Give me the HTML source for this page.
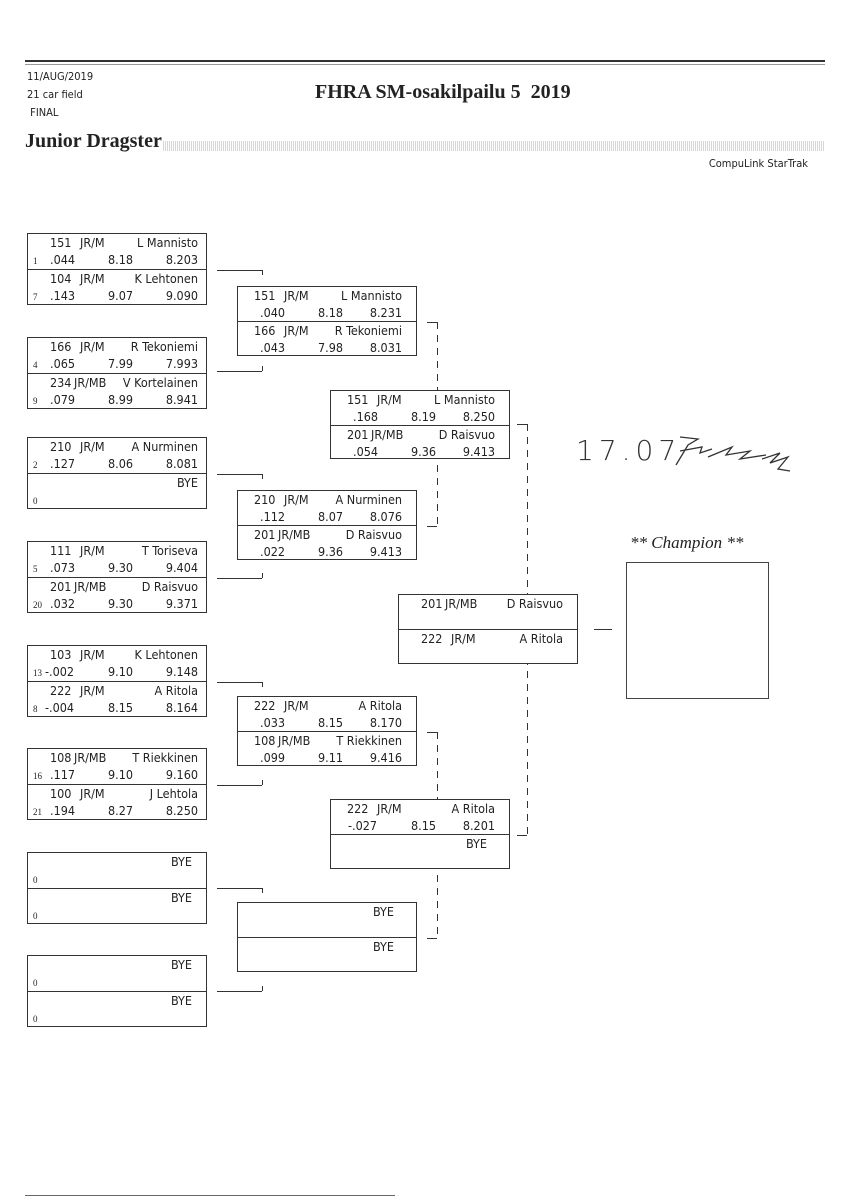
<!DOCTYPE html>
<html><head><meta charset="utf-8">
<style>
body{margin:0;background:#fff}
#p{position:relative;width:848px;height:1200px;overflow:hidden;background:#fff;font-family:"DejaVu Sans Condensed","Liberation Sans",sans-serif;color:#222}
.b{position:absolute;width:180px;height:72px;border:1px solid #333;box-sizing:border-box;background:#fff}
.b .d{position:absolute;left:0;right:0;top:35px;border-top:1px solid #333}
.r{position:absolute;left:0;right:0;height:18px;line-height:18px;font-size:12.5px}
.r span{position:absolute;white-space:nowrap}
.s{left:5px;font-family:"Liberation Serif",serif;font-size:9px;top:1px}
.a{left:22px}.c{left:52px}.m{left:80px}.e{right:8px}
.b2 .a{left:16px}.b2 .c{left:46px}.b2 .m{left:80px}.b2 .e{right:14px}
.h{position:absolute;border-top:1px solid #333}
.v{position:absolute;border-left:1px solid #333}
.vd{position:absolute;width:1px;background:repeating-linear-gradient(180deg,#333 0 7px,transparent 7px 13px)}
</style></head><body><div id="p">
<div class="h" style="left:25px;top:60px;width:800px;border-top:2px solid #333"></div>
<div class="h" style="left:25px;top:64px;width:800px;border-color:#999"></div>
<div style="position:absolute;left:27px;top:68px;font-size:11px;line-height:18px">11/AUG/2019<br>21 car field<br>&nbsp;FINAL</div>
<div style="position:absolute;left:315px;top:81px;font:bold 20px 'Liberation Serif',serif">FHRA SM-osakilpailu 5&nbsp; 2019</div>
<div style="position:absolute;left:25px;top:130px;font:bold 20px 'Liberation Serif',serif">Junior Dragster</div>
<div style="position:absolute;left:163px;top:141px;width:662px;height:10px;background:repeating-linear-gradient(90deg,#ccc 0 1px,#fff 1px 2px),#e4e4e4;opacity:.8"></div>
<div style="position:absolute;right:40px;top:157px;font-size:11px">CompuLink StarTrak</div>

<!-- connectors R1->R2 -->
<div class="h" style="left:217px;top:270px;width:45px"></div><div class="v" style="left:262px;top:270px;height:5px"></div>
<div class="h" style="left:217px;top:371px;width:45px"></div><div class="v" style="left:262px;top:366px;height:5px"></div>
<div class="h" style="left:217px;top:474px;width:45px"></div><div class="v" style="left:262px;top:474px;height:5px"></div>
<div class="h" style="left:217px;top:578px;width:45px"></div><div class="v" style="left:262px;top:573px;height:5px"></div>
<div class="h" style="left:217px;top:682px;width:45px"></div><div class="v" style="left:262px;top:682px;height:5px"></div>
<div class="h" style="left:217px;top:785px;width:45px"></div><div class="v" style="left:262px;top:780px;height:5px"></div>
<div class="h" style="left:217px;top:888px;width:45px"></div><div class="v" style="left:262px;top:888px;height:5px"></div>
<div class="h" style="left:217px;top:991px;width:45px"></div><div class="v" style="left:262px;top:986px;height:5px"></div>
<!-- R2->R3 -->
<div class="h" style="left:427px;top:322px;width:10px"></div><div class="vd" style="left:437px;top:322px;height:204px"></div><div class="h" style="left:427px;top:526px;width:10px"></div>
<div class="h" style="left:427px;top:732px;width:10px"></div><div class="vd" style="left:437px;top:732px;height:206px"></div><div class="h" style="left:427px;top:938px;width:10px"></div>
<!-- R3->final -->
<div class="h" style="left:517px;top:424px;width:10px"></div><div class="vd" style="left:527px;top:424px;height:411px"></div><div class="h" style="left:517px;top:835px;width:10px"></div>
<div class="h" style="left:594px;top:629px;width:18px"></div>

<!-- R1 -->
<div class="b" style="left:27px;top:233px"><div class="d"></div>
<div class="r" style="top:0"><span class="a">151</span><span class="c">JR/M</span><span class="e">L Mannisto</span></div>
<div class="r" style="top:17px"><span class="s">1</span><span class="a">.044</span><span class="m">8.18</span><span class="e">8.203</span></div>
<div class="r" style="top:36px"><span class="a">104</span><span class="c">JR/M</span><span class="e">K Lehtonen</span></div>
<div class="r" style="top:53px"><span class="s">7</span><span class="a">.143</span><span class="m">9.07</span><span class="e">9.090</span></div></div>
<div class="b" style="left:27px;top:337px"><div class="d"></div>
<div class="r" style="top:0"><span class="a">166</span><span class="c">JR/M</span><span class="e">R Tekoniemi</span></div>
<div class="r" style="top:17px"><span class="s">4</span><span class="a">.065</span><span class="m">7.99</span><span class="e">7.993</span></div>
<div class="r" style="top:36px"><span class="a">234</span><span class="c" style="left:46px">JR/MB</span><span class="e">V Kortelainen</span></div>
<div class="r" style="top:53px"><span class="s">9</span><span class="a">.079</span><span class="m">8.99</span><span class="e">8.941</span></div></div>
<div class="b" style="left:27px;top:437px"><div class="d"></div>
<div class="r" style="top:0"><span class="a">210</span><span class="c">JR/M</span><span class="e">A Nurminen</span></div>
<div class="r" style="top:17px"><span class="s">2</span><span class="a">.127</span><span class="m">8.06</span><span class="e">8.081</span></div>
<div class="r" style="top:36px"><span class="e">BYE</span></div>
<div class="r" style="top:53px"><span class="s">0</span></div></div>
<div class="b" style="left:27px;top:541px"><div class="d"></div>
<div class="r" style="top:0"><span class="a">111</span><span class="c">JR/M</span><span class="e">T Toriseva</span></div>
<div class="r" style="top:17px"><span class="s">5</span><span class="a">.073</span><span class="m">9.30</span><span class="e">9.404</span></div>
<div class="r" style="top:36px"><span class="a">201</span><span class="c" style="left:46px">JR/MB</span><span class="e">D Raisvuo</span></div>
<div class="r" style="top:53px"><span class="s">20</span><span class="a">.032</span><span class="m">9.30</span><span class="e">9.371</span></div></div>
<div class="b" style="left:27px;top:645px"><div class="d"></div>
<div class="r" style="top:0"><span class="a">103</span><span class="c">JR/M</span><span class="e">K Lehtonen</span></div>
<div class="r" style="top:17px"><span class="s">13</span><span class="a" style="left:17px">-.002</span><span class="m">9.10</span><span class="e">9.148</span></div>
<div class="r" style="top:36px"><span class="a">222</span><span class="c">JR/M</span><span class="e">A Ritola</span></div>
<div class="r" style="top:53px"><span class="s">8</span><span class="a" style="left:17px">-.004</span><span class="m">8.15</span><span class="e">8.164</span></div></div>
<div class="b" style="left:27px;top:748px"><div class="d"></div>
<div class="r" style="top:0"><span class="a">108</span><span class="c" style="left:46px">JR/MB</span><span class="e">T Riekkinen</span></div>
<div class="r" style="top:17px"><span class="s">16</span><span class="a">.117</span><span class="m">9.10</span><span class="e">9.160</span></div>
<div class="r" style="top:36px"><span class="a">100</span><span class="c">JR/M</span><span class="e">J Lehtola</span></div>
<div class="r" style="top:53px"><span class="s">21</span><span class="a">.194</span><span class="m">8.27</span><span class="e">8.250</span></div></div>
<div class="b" style="left:27px;top:852px"><div class="d"></div>
<div class="r" style="top:0"><span class="e" style="right:14px">BYE</span></div>
<div class="r" style="top:17px"><span class="s">0</span></div>
<div class="r" style="top:36px"><span class="e" style="right:14px">BYE</span></div>
<div class="r" style="top:53px"><span class="s">0</span></div></div>
<div class="b" style="left:27px;top:955px"><div class="d"></div>
<div class="r" style="top:0"><span class="e" style="right:14px">BYE</span></div>
<div class="r" style="top:17px"><span class="s">0</span></div>
<div class="r" style="top:36px"><span class="e" style="right:14px">BYE</span></div>
<div class="r" style="top:53px"><span class="s">0</span></div></div>

<!-- R2 -->
<div class="b b2" style="left:237px;top:286px;height:70px"><div class="d" style="top:34px"></div>
<div class="r" style="top:0"><span class="a">151</span><span class="c">JR/M</span><span class="e">L Mannisto</span></div>
<div class="r" style="top:17px"><span class="a" style="left:22px">.040</span><span class="m">8.18</span><span class="e">8.231</span></div>
<div class="r" style="top:35px"><span class="a">166</span><span class="c">JR/M</span><span class="e">R Tekoniemi</span></div>
<div class="r" style="top:52px"><span class="a" style="left:22px">.043</span><span class="m">7.98</span><span class="e">8.031</span></div></div>
<div class="b b2" style="left:237px;top:490px;height:70px"><div class="d" style="top:34px"></div>
<div class="r" style="top:0"><span class="a">210</span><span class="c">JR/M</span><span class="e">A Nurminen</span></div>
<div class="r" style="top:17px"><span class="a" style="left:22px">.112</span><span class="m">8.07</span><span class="e">8.076</span></div>
<div class="r" style="top:35px"><span class="a">201</span><span class="c" style="left:40px">JR/MB</span><span class="e">D Raisvuo</span></div>
<div class="r" style="top:52px"><span class="a" style="left:22px">.022</span><span class="m">9.36</span><span class="e">9.413</span></div></div>
<div class="b b2" style="left:237px;top:696px;height:70px"><div class="d" style="top:34px"></div>
<div class="r" style="top:0"><span class="a">222</span><span class="c">JR/M</span><span class="e">A Ritola</span></div>
<div class="r" style="top:17px"><span class="a" style="left:22px">.033</span><span class="m">8.15</span><span class="e">8.170</span></div>
<div class="r" style="top:35px"><span class="a">108</span><span class="c" style="left:40px">JR/MB</span><span class="e">T Riekkinen</span></div>
<div class="r" style="top:52px"><span class="a" style="left:22px">.099</span><span class="m">9.11</span><span class="e">9.416</span></div></div>
<div class="b b2" style="left:237px;top:902px;height:70px"><div class="d" style="top:34px"></div>
<div class="r" style="top:0"><span class="e" style="right:22px">BYE</span></div>
<div class="r" style="top:35px"><span class="e" style="right:22px">BYE</span></div></div>

<!-- R3 -->
<div class="b b2" style="left:330px;top:390px;height:69px"><div class="d" style="top:34px"></div>
<div class="r" style="top:0"><span class="a">151</span><span class="c">JR/M</span><span class="e">L Mannisto</span></div>
<div class="r" style="top:17px"><span class="a" style="left:22px">.168</span><span class="m">8.19</span><span class="e">8.250</span></div>
<div class="r" style="top:35px"><span class="a">201</span><span class="c" style="left:40px">JR/MB</span><span class="e">D Raisvuo</span></div>
<div class="r" style="top:52px"><span class="a" style="left:22px">.054</span><span class="m">9.36</span><span class="e">9.413</span></div></div>
<div class="b b2" style="left:330px;top:799px;height:70px"><div class="d" style="top:34px"></div>
<div class="r" style="top:0"><span class="a">222</span><span class="c">JR/M</span><span class="e">A Ritola</span></div>
<div class="r" style="top:17px"><span class="a" style="left:17px">-.027</span><span class="m">8.15</span><span class="e">8.201</span></div>
<div class="r" style="top:35px"><span class="e" style="right:22px">BYE</span></div></div>

<!-- Final -->
<div class="b b2" style="left:398px;top:594px;height:70px"><div class="d" style="top:34px"></div>
<div class="r" style="top:0"><span class="a" style="left:22px">201</span><span class="c">JR/MB</span><span class="e">D Raisvuo</span></div>
<div class="r" style="top:35px"><span class="a" style="left:22px">222</span><span class="c" style="left:52px">JR/M</span><span class="e">A Ritola</span></div></div>

<div style="position:absolute;left:630px;top:533px;font:italic 17px 'Liberation Serif',serif">** Champion **</div>
<div style="position:absolute;left:626px;top:562px;width:143px;height:137px;border:1px solid #444;box-sizing:border-box"></div>

<div style="position:absolute;left:576px;top:434px;font:300 28px 'DejaVu Sans ExtraLight','DejaVu Sans',sans-serif;color:#333;letter-spacing:5px">17.07</div>
<svg style="position:absolute;left:670px;top:425px" width="150" height="60"><path d="M10 12 L28 14 L18 20 L6 40 M10 26 L32 22 L30 28 L42 24 M38 32 L62 22 L56 30 L80 26 L70 34 L96 30 M92 34 L110 28 L100 38 L118 32 L108 44 L120 46" fill="none" stroke="#333" stroke-width="1.3"/></svg>

<div class="h" style="left:25px;top:1195px;width:370px;border-color:#666"></div>
</div></body></html>
